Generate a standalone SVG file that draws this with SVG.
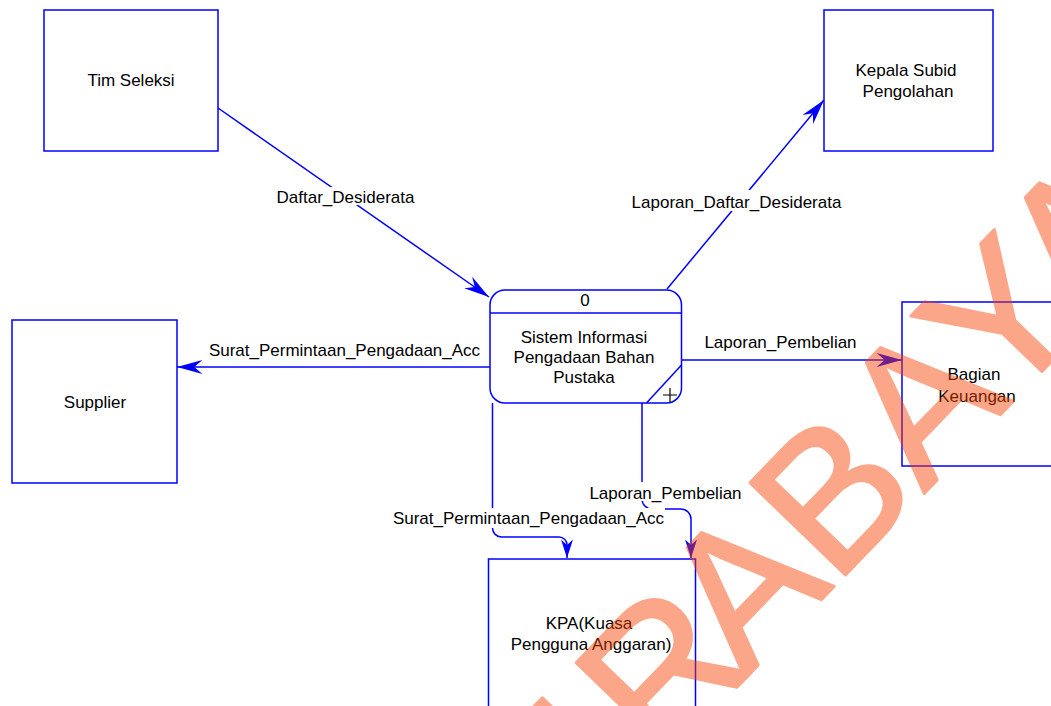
<svg xmlns="http://www.w3.org/2000/svg" width="1051" height="706" viewBox="0 0 1051 706">
<style>
.box{fill:#fff;stroke:#0000ff;stroke-width:1.5}
.t{font-family:"Liberation Sans",Arial,sans-serif;font-size:17px;fill:#000;text-anchor:middle}
.c{fill:none;stroke:#0000ff;stroke-width:1.5}
.bg{fill:#fff}
.wm{font-family:"Liberation Sans",Arial,sans-serif;font-size:193px;fill:#f84000;stroke:#f84000;stroke-width:3;stroke-linejoin:round}
</style>
<defs>
<marker id="arr" markerUnits="userSpaceOnUse" markerWidth="30" markerHeight="20" viewBox="-24 -8 26 16" refX="0" refY="0" orient="auto">
<path d="M0,0 L-22,-6 L-15,0 L-22,6 Z" fill="#0000ff"/>
</marker>
<marker id="arrs" markerUnits="userSpaceOnUse" markerWidth="24" markerHeight="16" viewBox="-20 -7 22 14" refX="0" refY="0" orient="auto">
<path d="M0,0 L-17,-5.5 L-12,0 L-17,5.5 Z" fill="#0000ff"/>
</marker>
</defs>
<rect width="1051" height="706" fill="#fff"/>
<g id="connectors">
<path class="c" d="M218,108 L489,297" marker-end="url(#arr)"/>
<path class="c" d="M667,289 L824,100" marker-end="url(#arr)"/>
<path class="c" d="M490,367 L177,367" marker-end="url(#arr)"/>
<path class="c" d="M682,360 L902,360" marker-end="url(#arr)"/>
<path class="c" d="M492.5,403 V528 A9,9 0 0 0 501.5,537 H559 A8,8 0 0 1 567,545 V558" marker-end="url(#arrs)"/>
<path class="c" d="M642,403 V499 A10,10 0 0 0 652,509 H681 A10,10 0 0 1 691,519 V558" marker-end="url(#arrs)"/>
<rect class="bg" x="274" y="187" width="143" height="18"/>
<text class="t" x="345.5" y="203">Daftar_Desiderata</text>
<rect class="bg" x="629" y="190" width="215" height="21"/>
<text class="t" x="736.5" y="208">Laporan_Daftar_Desiderata</text>
<text class="t" x="344.5" y="356">Surat_Permintaan_Pengadaan_Acc</text>
<text class="t" x="780.5" y="348">Laporan_Pembelian</text>
<rect class="bg" x="586" y="482" width="159" height="19"/>
<text class="t" x="665.5" y="499">Laporan_Pembelian</text>
<rect class="bg" x="392" y="508" width="273" height="20"/>
<text class="t" x="528.5" y="524">Surat_Permintaan_Pengadaan_Acc</text>
</g>
<g id="tim-seleksi">
<rect class="box" x="44" y="10" width="174" height="141"/>
<text class="t" x="131" y="86">Tim Seleksi</text>
</g>
<g id="kepala-subid">
<rect class="box" x="824" y="10" width="169" height="141"/>
<text class="t" x="906" y="76">Kepala Subid</text>
<text class="t" x="908" y="97">Pengolahan</text>
</g>
<g id="sistem">
<rect class="box" x="490" y="290" width="191.5" height="113" rx="15" ry="15"/>
<line class="c" x1="490" y1="313" x2="681.5" y2="313"/>
<line class="c" x1="681.5" y1="365" x2="646.5" y2="403"/>
<path d="M663,395 H677 M670,388 V402" stroke="#000" stroke-width="1.2" fill="none"/>
<text class="t" x="585" y="306">0</text>
<text class="t" x="584" y="343">Sistem Informasi</text>
<text class="t" x="584" y="363">Pengadaan Bahan</text>
<text class="t" x="584" y="383">Pustaka</text>
</g>
<g id="supplier">
<rect class="box" x="12" y="320" width="165" height="163"/>
<text class="t" x="95" y="408">Supplier</text>
</g>
<g id="bagian-keuangan">
<rect class="box" x="902" y="302" width="170" height="164"/>
<text class="t" x="974" y="380">Bagian</text>
<text class="t" x="977" y="402">Keuangan</text>
</g>
<g id="kpa">
<rect class="box" x="488.5" y="559" width="207" height="160"/>
<text class="t" x="589" y="629">KPA(Kuasa</text>
<text class="t" x="591" y="650">Pengguna Anggaran)</text>
</g>
<g id="watermark" opacity="0.46">
<text class="wm" transform="translate(462,972) rotate(-46)" dx="0 0 18 -18">SURABAYA</text>
</g>
</svg>
